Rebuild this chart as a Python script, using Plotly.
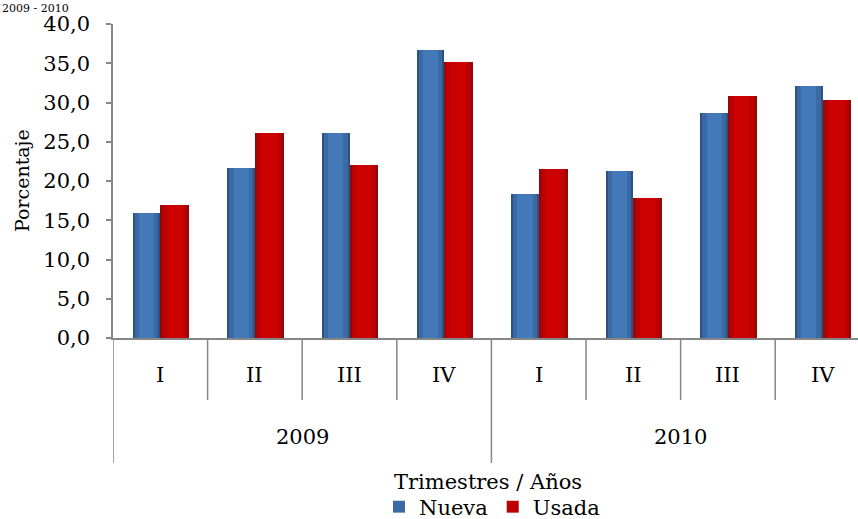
import plotly.graph_objects as go

# ---------------- data ----------------
quarters = ["I", "II", "III", "IV", "I", "II", "III", "IV"]
years = ["2009", "2010"]
quarters_per_year = 4
nueva = [15.9, 21.7, 26.1, 36.7, 18.3, 21.3, 28.7, 32.1]
usada = [17.0, 26.1, 22.0, 35.2, 21.5, 17.8, 30.8, 30.3]
y_ticks = [0, 5, 10, 15, 20, 25, 30, 35, 40]

# ---------------- layout constants ----------------
W, H = 858, 519
ML, MR, MT, MB = 113, 0, 24, 181
plot_h = H - MT - MB
plot_w = W - ML - MR
FONT = "DejaVu Serif"
FS = 21
AXIS_GRAY = "#868686"

def py(px):
    """pixel row -> paper y"""
    return (H - MB - px) / plot_h

def pxx(px):
    """pixel column -> paper x"""
    return (px - ML) / plot_w

x = list(range(len(quarters)))

fig = go.Figure()

# layered bars to imitate cylinder shading: (fraction of width, colour, legend?)
blue_layers = [(1.0, "#2C5282", False), (0.86, "#3A69A3", True), (0.55, "#4479B9", False)]
red_layers = [(1.0, "#8C0A0A", False), (0.86, "#BA0000", True), (0.55, "#CC0202", False)]

def add_series(name, values, offset, width, layers):
    for frac, col, leg in layers:
        w = width * frac
        off = offset + (width - w) / 2
        fig.add_trace(go.Bar(
            x=x, y=values, name=name, marker=dict(color=col, line=dict(width=0)),
            offset=off, width=w, showlegend=leg, legendgroup=name,
            hoverinfo="skip" if not leg else None,
        ))

add_series("Nueva", nueva, -0.29, 0.29, blue_layers)
add_series("Usada", usada, 0.0, 0.305, red_layers)

shapes = []
annotations = []
# category dividers and labels
n = len(quarters)
for i in range(n + 1):
    is_year = (i % quarters_per_year == 0)
    shapes.append(dict(type="line", xref="x", yref="paper",
                       x0=i - 0.5, x1=i - 0.5, y0=0, y1=py(463) if is_year else py(400),
                       line=dict(color=AXIS_GRAY, width=1.5)))
for i, q in enumerate(quarters):
    annotations.append(dict(x=i, y=py(375), xref="x", yref="paper", text=q,
                            showarrow=False, yanchor="middle",
                            font=dict(family=FONT, size=FS, color="black")))
for j, yr in enumerate(years):
    cx = j * quarters_per_year + (quarters_per_year - 1) / 2
    annotations.append(dict(x=cx, y=py(437), xref="x", yref="paper", text=yr,
                            showarrow=False, yanchor="middle",
                            font=dict(family=FONT, size=FS, color="black")))
# x axis title
annotations.append(dict(x=pxx(488), y=py(482), xref="paper", yref="paper",
                        text="Trimestres / Años", showarrow=False, yanchor="middle",
                        font=dict(family=FONT, size=FS, color="black")))
# y axis title
annotations.append(dict(x=pxx(22), y=py(181), xref="paper", yref="paper",
                        text="Porcentaje", showarrow=False, textangle=-90,
                        xanchor="center", yanchor="middle",
                        font=dict(family=FONT, size=19, color="black")))
# chart subtitle at the very top (cut off in the original)
annotations.append(dict(x=pxx(0), y=py(0), xref="paper", yref="paper",
                        xanchor="left", yanchor="top",
                        text="2009 - 2010", showarrow=False,
                        font=dict(family=FONT, size=11, color="black")))

fig.update_layout(
    width=W, height=H,
    margin=dict(l=ML, r=MR, t=MT, b=MB, autoexpand=False),
    paper_bgcolor="white", plot_bgcolor="white",
    barmode="overlay",
    separators=",.",
    font=dict(family=FONT, size=FS, color="black"),
    xaxis=dict(range=[-0.5, n - 0.5 - 0.125], showticklabels=False, ticks="",
               showgrid=False, zeroline=False, showline=True,
               linecolor=AXIS_GRAY, linewidth=1.5, automargin=False),
    yaxis=dict(range=[0, 40], tickvals=y_ticks, tickformat=".1f",
               # long transparent major ticks push the labels away from the axis
               ticks="outside", ticklen=17, tickcolor="rgba(0,0,0,0)", tickwidth=1.5,
               minor=dict(tickvals=y_ticks, ticks="outside", ticklen=5,
                          tickcolor=AXIS_GRAY, tickwidth=1.5, showgrid=False),
               showgrid=False, zeroline=False, showline=True,
               linecolor=AXIS_GRAY, linewidth=1.5, automargin=False,
               tickfont=dict(family=FONT, size=FS, color="black")),
    legend=dict(orientation="h", x=pxx(492), xanchor="center",
                y=py(507), yanchor="middle", font=dict(family=FONT, size=FS),
                itemwidth=30, tracegroupgap=0, bgcolor="rgba(0,0,0,0)"),
    shapes=shapes, annotations=annotations,
    bargap=0,
)

fig.write_html("out.html", config={"displayModeBar": False},
               post_script="document.body.style.margin='0px';")
